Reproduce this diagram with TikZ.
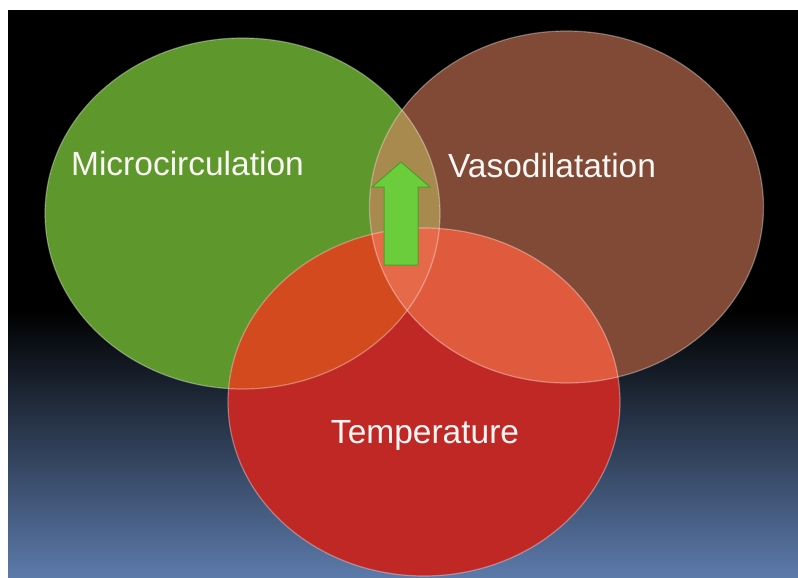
\documentclass[tikz,border=0pt]{standalone}
\usepackage{fontspec}
\setmainfont{Liberation Sans}
\definecolor{cG}{RGB}{94,152,44}
\definecolor{cB}{RGB}{128,74,54}
\definecolor{cR}{RGB}{192,40,38}
\definecolor{cGR}{RGB}{210,74,30}
\definecolor{cBR}{RGB}{224,90,62}
\definecolor{cGB}{RGB}{168,138,78}
\definecolor{cGBR}{RGB}{230,106,74}
\definecolor{bgblue}{RGB}{92,122,170}
\definecolor{bgmid}{RGB}{40,50,76}
\definecolor{arrowfill}{RGB}{108,205,60}
\definecolor{arrowedge}{RGB}{78,158,40}
\definecolor{txt}{RGB}{250,246,244}
\tikzset{
  rim/.style={draw=white, draw opacity=0.35, line width=1.2pt},
  label/.style={text=txt, font=\fontsize{33.5}{40}\selectfont, anchor=base, inner sep=0pt},
}
\begin{document}
\begin{tikzpicture}[x=1pt,y=-1pt]
\useasboundingbox (0,0) rectangle (798,578);
\fill[white] (0,0) rectangle (798,578);
\fill[black] (8,10) rectangle (798,312);
\shade[top color=black, middle color=bgmid, bottom color=bgblue] (8,310) rectangle (798,578);
% base ellipses
\fill[cG] (242.5,213.5) ellipse [x radius=197.5, y radius=175.5];
\fill[cB] (566.5,207) ellipse [x radius=197, y radius=176];
\fill[cR] (424,402) ellipse [x radius=196, y radius=174];
% overlaps
\begin{scope}
  \clip (242.5,213.5) ellipse [x radius=197.5, y radius=175.5];
  \fill[cGB] (566.5,207) ellipse [x radius=197, y radius=176];
  \fill[cGR] (424,402) ellipse [x radius=196, y radius=174];
\end{scope}
\begin{scope}
  \clip (566.5,207) ellipse [x radius=197, y radius=176];
  \fill[cBR] (424,402) ellipse [x radius=196, y radius=174];
\end{scope}
\begin{scope}
  \clip (242.5,213.5) ellipse [x radius=197.5, y radius=175.5];
  \clip (566.5,207) ellipse [x radius=197, y radius=176];
  \fill[cGBR] (424,402) ellipse [x radius=196, y radius=174];
\end{scope}
% rims
\path[rim] (242.5,213.5) ellipse [x radius=197.5, y radius=175.5];
\path[rim] (566.5,207) ellipse [x radius=197, y radius=176];
\path[rim] (424,402) ellipse [x radius=196, y radius=174];
% arrow
\draw[fill=arrowfill, draw=arrowedge, line width=1pt, line join=miter]
  (384,265) -- (384,187) -- (372,187) -- (401,162) -- (430,187) -- (418,187) -- (418,265) -- cycle;
% labels
\node[label] (micro) at (187.5,175) {Microcirculation};
\node[label] (vaso) at (552,177) {Vasodilatation};
\node[label] (temp) at (425,443) {Temperature};
\end{tikzpicture}
\end{document}
